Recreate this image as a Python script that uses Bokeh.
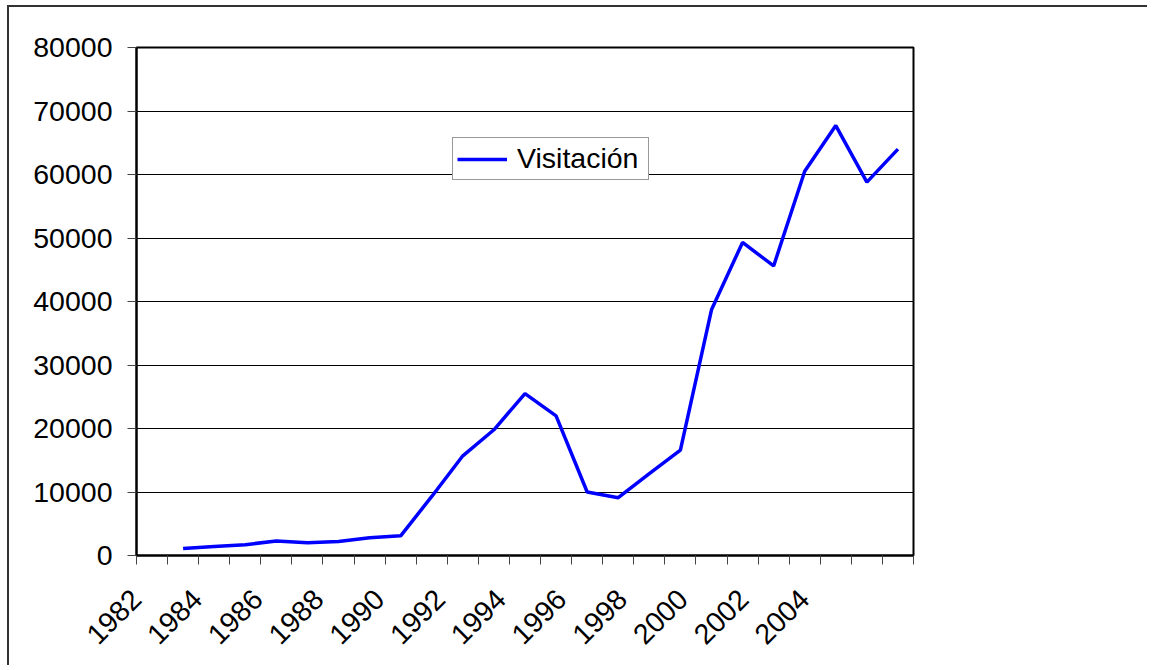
from bokeh.plotting import figure
from bokeh.models import (Range1d, FixedTicker, NumeralTickFormatter, CustomJSTickFormatter,
                          Legend, LegendItem, LinearAxis)
from bokeh.embed import file_html
from bokeh.resources import INLINE
from math import pi

# ---- data ----
years = [1983, 1984, 1985, 1986, 1987, 1988, 1989, 1990, 1991, 1992, 1993, 1994,
         1995, 1996, 1997, 1998, 1999, 2000, 2001, 2002, 2003, 2004, 2005, 2006]
visitacion = [1100, 1400, 1700, 2300, 2000, 2200, 2800, 3100, 9300, 15700, 19800, 25500,
              22000, 10000, 9100, 12900, 16600, 38700, 49300, 45600, 60500, 67700, 58800, 64000]
label_years = [1982, 1984, 1986, 1988, 1990, 1992, 1994, 1996, 1998, 2000, 2002, 2004]
y_ticks = [0, 10000, 20000, 30000, 40000, 50000, 60000, 70000, 80000]

FONT = "Liberation Sans"
FS = "28.5px"

first_cat, last_cat = 1982, 2006
boundaries = [first_cat - 0.5 + k for k in range(last_cat - first_cat + 2)]
# Excel places the rotated labels slightly tighter than two categories apart
label_pos = [first_cat - 0.5 + (y - first_cat) * 0.977 for y in label_years]

W, H = 1140, 660
p = figure(width=W, height=H, output_backend="svg", toolbar_location=None,
           x_range=Range1d(first_cat - 0.5, last_cat + 0.5), y_range=Range1d(0, 80000),
           min_border_left=127, min_border_right=W - 904, min_border_top=40,
           min_border_bottom=H - 548, x_axis_type=None)
p.styles = {"border-top": "2px solid #333", "border-left": "2px solid #333",
            "margin-left": "7px", "margin-top": "5px"}

p.background_fill_color = "white"
p.border_fill_color = "white"
p.outline_line_color = "black"
p.outline_line_width = 2

# x axis
xaxis = LinearAxis(ticker=FixedTicker(ticks=label_pos, minor_ticks=boundaries))
xaxis.formatter = CustomJSTickFormatter(args=dict(pos=label_pos, labels=[str(y) for y in label_years]), code="""
let best = 0, bd = 1e9;
for (let i = 0; i < pos.length; i++) { const d = Math.abs(pos[i] - tick); if (d < bd) { bd = d; best = i; } }
return labels[best];
""")
xaxis.major_tick_out = 0
xaxis.major_tick_in = 0
xaxis.minor_tick_out = 9
xaxis.minor_tick_in = 0
xaxis.minor_tick_line_color = "#444"
xaxis.minor_tick_line_width = 1
xaxis.axis_line_color = "black"
xaxis.axis_line_width = 2
xaxis.major_label_orientation = pi / 4
xaxis.major_label_standoff = 30
xaxis.major_label_text_font = FONT
xaxis.major_label_text_font_size = FS
xaxis.major_label_text_color = "black"
p.add_layout(xaxis, "below")

# y axis
p.yaxis.ticker = FixedTicker(ticks=y_ticks)
p.yaxis.formatter = NumeralTickFormatter(format="0")
p.yaxis.major_tick_out = 9
p.yaxis.major_tick_in = 0
p.yaxis.minor_tick_line_color = None
p.yaxis.major_tick_line_color = "#444"
p.yaxis.axis_line_color = "black"
p.yaxis.axis_line_width = 2
p.yaxis.major_label_standoff = 15
p.yaxis.major_label_text_font = FONT
p.yaxis.major_label_text_font_size = FS
p.yaxis.major_label_text_color = "black"

p.ygrid.ticker = FixedTicker(ticks=y_ticks)
p.ygrid.grid_line_color = "black"
p.ygrid.grid_line_width = 1
p.xgrid.grid_line_color = None

r = p.line(years, visitacion, line_color="#0000FF", line_width=3.5)

legend = Legend(items=[LegendItem(label="Visitación", renderers=[r])],
                location=(316, 375))
legend.label_text_font = FONT
legend.label_text_font_size = FS
legend.label_text_color = "black"
legend.glyph_width = 50
legend.glyph_height = 24
legend.label_standoff = 10
legend.label_width = 127
legend.padding = 4
legend.margin = 0
legend.spacing = 0
legend.border_line_color = "#333"
legend.border_line_width = 1
legend.background_fill_color = "white"
legend.background_fill_alpha = 1
p.add_layout(legend, "center")

open("out.html", "w").write(file_html(p, INLINE))
